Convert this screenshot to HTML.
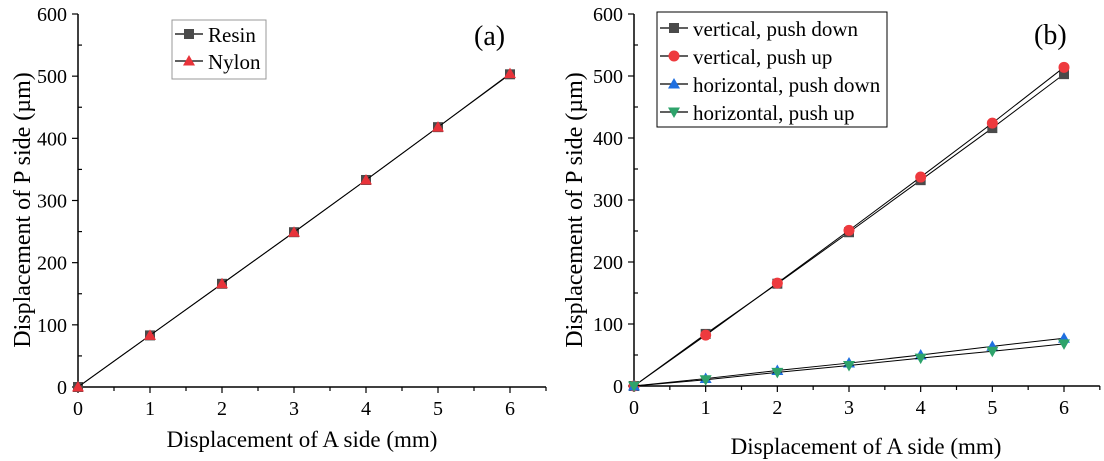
<!DOCTYPE html>
<html><head><meta charset="utf-8">
<style>
html,body{margin:0;padding:0;background:#fff;}
svg{display:block;}
svg text{font-family:"Liberation Serif","DejaVu Serif",serif;}
</style></head>
<body>
<svg id="fig" width="1104" height="461" viewBox="0 0 1104 461" xmlns="http://www.w3.org/2000/svg" font-family="Liberation Serif, serif"></svg>
<script>
const xCats=[0,1,2,3,4,5,6];
const xTickLabels=["0","1","2","3","4","5","6"];
const yTickLabels=["0","100","200","300","400","500","600"];
const resin=[0,83,166,249,333,418,503];
const nylon=[0,83,166,249,333,418,504];
const vDown=[0,84,165,248,332,416,503];
const vUp=[0,82,166,251,337,424,514];
const hDown=[0,12,25,37,50,64,77];
const hUp=[0,10,22,33,45,56,68];

const NS="http://www.w3.org/2000/svg";
const SERIF='"Liberation Serif", serif';
const svg=document.getElementById('fig');
function mk(tag,attrs,parent){const e=document.createElementNS(NS,tag);for(const k in attrs)e.setAttribute(k,attrs[k]);if(tag==='text')e.setAttribute('font-family',SERIF);(parent||svg).appendChild(e);return e;}

function panel(cfg){
  const g=mk('g',{});
  
  
  const X=v=>cfg.x0+(v/6)*(cfg.x6-cfg.x0);
  const Y=v=>cfg.y0-(v/600)*(cfg.y0-cfg.y600);
  const xEnd=X(6.5);
  const ax=mk('path',{d:`M${cfg.x0},${cfg.y600} V${cfg.y0} H${xEnd}`,stroke:'#000','stroke-width':1.5,fill:'none'},g);
  
  
  for(let i=0;i<=12;i++){
    const v=i*50, y=Y(v), major=i%2==0;
    mk('line',{x1:cfg.x0-(major?6:0),x2:cfg.x0+(major?0:4),y1:y,y2:y,stroke:'#000','stroke-width':1.2},g);
    if(major){const t=mk('text',{x:cfg.x0-11,y:y+7,'text-anchor':'end','font-size':20},g);t.textContent=yTickLabels[i/2];
      
      }
  }
  for(let i=0;i<=13;i++){
    const v=i*0.5,x=X(v),major=i%2==0;
    mk('line',{x1:x,x2:x,y1:cfg.y0,y2:cfg.y0+(major?6:4),stroke:'#000','stroke-width':1.2},g);
    if(major&&i/2<xCats.length){const t=mk('text',{x:x,y:cfg.y0+28,'text-anchor':'middle','font-size':20},g);t.textContent=xTickLabels[i/2];
      
      }
  }
  const xt=mk('text',{x:cfg.xtX,y:cfg.xtY,'text-anchor':'middle','font-size':23},g);
  xt.textContent='Displacement of A side (mm)';
  
  
  const yt=mk('text',{x:0,y:0,'text-anchor':'middle','font-size':24,transform:`translate(${cfg.ytX},${cfg.ytY}) rotate(-90)`},g);
  yt.textContent='Displacement of P side (µm)';
  
  
  const lb=mk('text',{x:cfg.lblX,y:cfg.lblY,'font-size':28},g);
  lb.textContent=cfg.label;
  
  
  cfg.series.forEach(s=>{
    const sg=mk('g',{},g);
    
    
    const d=s.vals.map((v,i)=>(i?'L':'M')+X(xCats[i])+','+Y(v)).join(' ');
    mk('path',{d:d,stroke:'#000','stroke-width':1,fill:'none'},sg);
    s.vals.forEach((v,i)=>{const m=marker(s.shape,X(xCats[i]),Y(v),s.color,sg);
      
      });
  });
  const L=cfg.legend;
  const lg=mk('g',{},g);
  
  
  mk('rect',{x:L.x,y:L.y,width:L.w,height:L.h,fill:'#fff',stroke:L.stroke,'stroke-width':1},lg);
  cfg.series.forEach((s,i)=>{
    const cy=L.y+L.first+i*L.step;
    const eg=mk('g',{},lg);
    
    
    mk('line',{x1:L.x+3,x2:L.x+31,y1:cy,y2:cy,stroke:'#000','stroke-width':1.2},eg);
    marker(s.shape,L.x+17,cy,s.color,eg);
    const t=mk('text',{x:L.x+36,y:cy+8,'font-size':L.fs},eg);t.textContent=s.title;
  });
}
function marker(shape,x,y,c,p){
  const r=5;
  if(shape==='sq')return mk('rect',{x:x-r,y:y-r,width:2*r,height:2*r,fill:c},p);
  if(shape==='ci')return mk('circle',{cx:x,cy:y,r:r+0.5,fill:c},p);
  if(shape==='tu')return mk('path',{d:`M${x},${y-6} L${x+6},${y+4.5} L${x-6},${y+4.5} Z`,fill:c},p);
  return mk('path',{d:`M${x},${y+6} L${x+6},${y-4.5} L${x-6},${y-4.5} Z`,fill:c},p);
}
panel({name:'chart-a',x0:78,x6:510,y0:387,y600:14,xtX:302,xtY:447,ytX:30,ytY:210,label:'(a)',lblX:474,lblY:45,
  legend:{x:172,y:20,w:94,h:59,first:14,step:27,fs:21,stroke:'#999'},
  series:[{key:'resin',title:'Resin',vals:resin,shape:'sq',color:'#4a4a4a'},
          {key:'nylon',title:'Nylon',vals:nylon,shape:'tu',color:'#e8333a'}]});
panel({name:'chart-b',x0:634,x6:1064,y0:386,y600:14,xtX:866,xtY:454,ytX:582,ytY:210,label:'(b)',lblX:1034,lblY:44,
  legend:{x:657,y:12,w:230,h:115,first:16,step:28,fs:21,stroke:'#000'},
  series:[{key:'vertical-push-down',title:'vertical, push down',vals:vDown,shape:'sq',color:'#4a4a4a'},
          {key:'vertical-push-up',title:'vertical, push up',vals:vUp,shape:'ci',color:'#ee3a3e'},
          {key:'horizontal-push-down',title:'horizontal, push down',vals:hDown,shape:'tu',color:'#1f6fe0'},
          {key:'horizontal-push-up',title:'horizontal, push up',vals:hUp,shape:'td',color:'#2ea36b'}]});
</script>
</body></html>
